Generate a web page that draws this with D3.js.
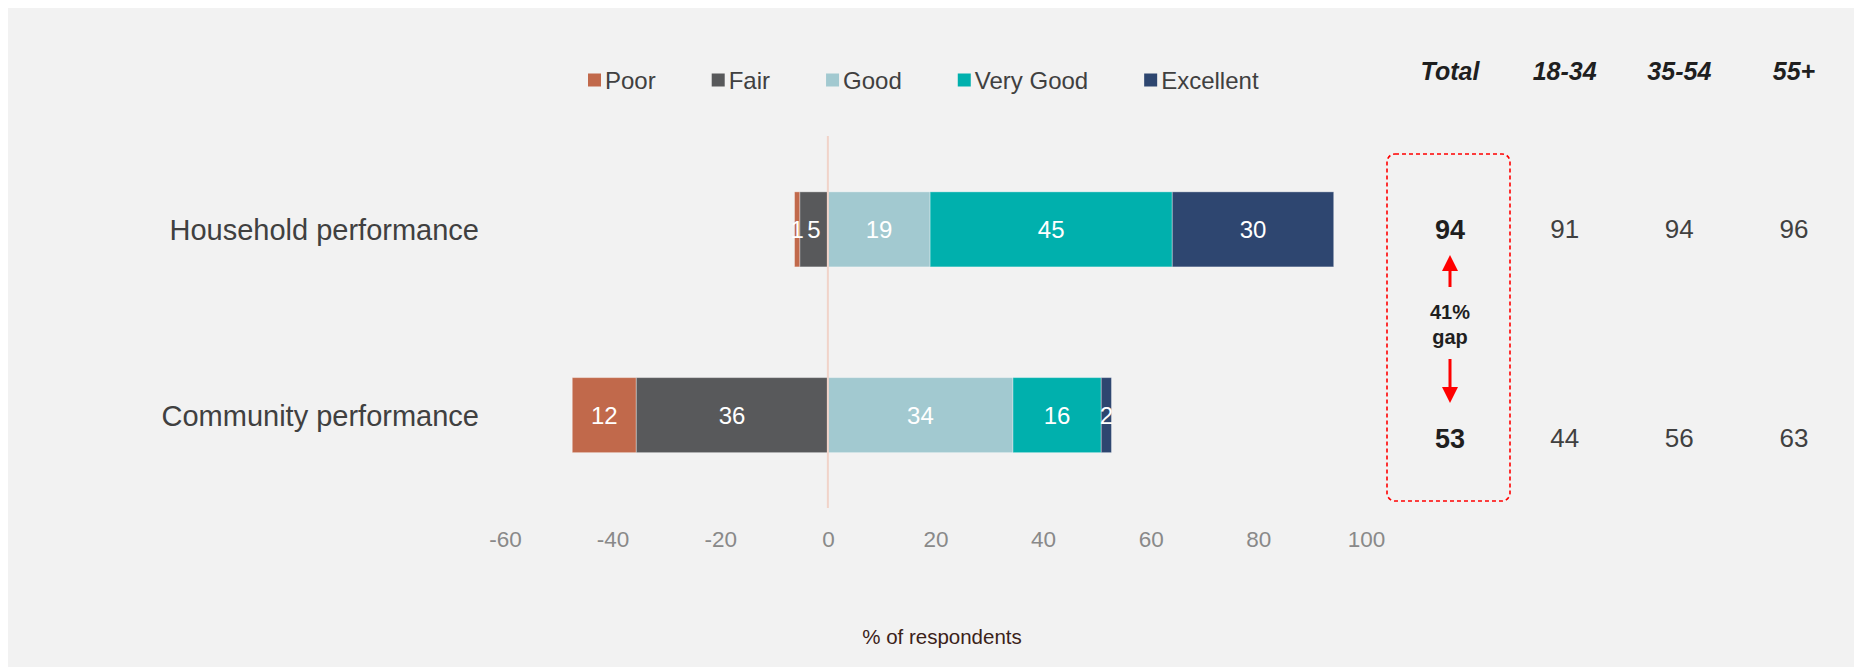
<!DOCTYPE html>
<html>
<head>
<meta charset="utf-8">
<script src="https://cdn.jsdelivr.net/npm/d3@7"></script>
<style>
  body { margin: 0; background: #fff; }
  svg { display: block; font-family: "Liberation Sans", Arial, sans-serif; }
</style>
</head>
<body>
<div id="chart"></div>
<script>
'use strict';
// Chart data.
var categories = ['Household performance', 'Community performance'];
var levels = ['Poor', 'Fair', 'Good', 'Very Good', 'Excellent'];
var poor = [1, 11.9];
var fair = [5.2, 35.6];
var good = [19, 34.4];
var veryGood = [45, 16.4];
var excellent = [30, 1.9];
var xTicks = [-60, -40, -20, 0, 20, 40, 60, 80, 100];
var groups = ['Total', '18-34', '35-54', '55+'];
var total = [94, 53];
var age1834 = [91, 44];
var age3554 = [94, 56];
var age55 = [96, 63];
var gapText = ['41%', 'gap'];
var axisTitle = '% of respondents';

var colors = ['#c1694b', '#58595b', '#a2c9d0', '#00b0ad', '#2e4670'];

var width = 1854, height = 667;
var svg = d3.select('#chart').append('svg')
    .attr('width', width)
    .attr('height', height);

// Panel background.
svg.append('rect')
    .attr('x', 8).attr('y', 8)
    .attr('width', width - 8).attr('height', height - 8)
    .attr('fill', '#f2f2f2');

var xScale = d3.scaleLinear().domain([-60, 100]).range([505, 1366]);
var yScale = d3.scaleBand().domain(categories)
    .range([136.5, 508]).paddingInner(0.596).paddingOuter(0.298);

// Build stacked segments: negatives go left of zero, positives right.
var segments = [];
categories.forEach(function(cat, i) {
    var neg = [poor[i], fair[i]];
    var pos = [good[i], veryGood[i], excellent[i]];
    var start = -(neg[0] + neg[1]);
    neg.forEach(function(v, j) {
        segments.push({cat: cat, level: j, x0: start, x1: start + v, value: v});
        start += v;
    });
    start = 0;
    pos.forEach(function(v, j) {
        segments.push({cat: cat, level: j + 2, x0: start, x1: start + v, value: v});
        start += v;
    });
});

var bars = svg.append('g');
bars.selectAll('rect')
    .data(segments)
    .enter()
    .append('rect')
    .attr('x', function(d) { return xScale(d.x0); })
    .attr('width', function(d) { return xScale(d.x1) - xScale(d.x0); })
    .attr('y', function(d) { return yScale(d.cat); })
    .attr('height', yScale.bandwidth())
    .attr('fill', function(d) { return colors[d.level]; })
    .attr('stroke', 'rgba(255,255,255,0.35)')
    .attr('stroke-width', 1);

bars.selectAll('text')
    .data(segments)
    .enter()
    .append('text')
    .attr('x', function(d) { return xScale((d.x0 + d.x1) / 2); })
    .attr('y', function(d) { return yScale(d.cat) + yScale.bandwidth() / 2; })
    .attr('dy', '0.36em')
    .attr('text-anchor', 'middle')
    .attr('fill', '#fff')
    .style('font-size', '24px')
    .text(function(d) { return Math.round(d.value); });

// Zero line.
svg.append('line')
    .attr('x1', xScale(0)).attr('x2', xScale(0))
    .attr('y1', 136).attr('y2', 508)
    .attr('stroke', '#f1d3c9')
    .attr('stroke-width', 2);

// Category labels.
svg.append('g').selectAll('text')
    .data(categories)
    .enter()
    .append('text')
    .attr('x', 479)
    .attr('y', function(d) { return yScale(d) + yScale.bandwidth() / 2; })
    .attr('dy', '0.36em')
    .attr('text-anchor', 'end')
    .attr('fill', '#404040')
    .style('font-size', '29px')
    .text(function(d) { return d; });

// x axis (labels only), plain hyphen for negatives.
var xAxis = d3.axisBottom(xScale)
    .tickValues(xTicks)
    .tickFormat(function(d) { return String(d); })
    .tickSize(0)
    .tickPadding(0);
var axisG = svg.append('g')
    .attr('transform', 'translate(0,531)')
    .call(xAxis);
axisG.select('.domain').remove();
axisG.selectAll('text')
    .attr('fill', '#898989')
    .attr('dy', '0.71em')
    .style('font-size', '22.5px')
    .style('font-family', '"Liberation Sans", Arial, sans-serif');

svg.append('text')
    .attr('x', 942)
    .attr('y', 637)
    .attr('dy', '0.36em')
    .attr('text-anchor', 'middle')
    .attr('fill', '#3b2219')
    .style('font-size', '20.5px')
    .text(axisTitle);

// Legend.
var legend = svg.append('g').attr('transform', 'translate(588,80)');
var lx = 0;
levels.forEach(function(name, i) {
    var item = legend.append('g').attr('transform', 'translate(' + lx + ',0)');
    item.append('rect')
        .attr('x', 0).attr('y', -6.5)
        .attr('width', 13).attr('height', 13)
        .attr('fill', colors[i]);
    var t = item.append('text')
        .attr('x', 17)
        .attr('dy', '0.36em')
        .attr('fill', '#404040')
        .style('font-size', '24px')
        .text(name);
    lx += 17 + t.node().getComputedTextLength() + 56;
});

// Table on the right.
var colScale = d3.scalePoint().domain(groups).range([1450, 1794]);
var rowScale = d3.scalePoint().domain(categories).range([229, 438]);
var tableCols = [total, age1834, age3554, age55];

svg.append('g').selectAll('text')
    .data(groups)
    .enter()
    .append('text')
    .attr('x', function(d) { return colScale(d); })
    .attr('y', 71)
    .attr('dy', '0.36em')
    .attr('text-anchor', 'middle')
    .attr('fill', '#1f1f1f')
    .style('font-size', '25px')
    .style('font-weight', 'bold')
    .style('font-style', 'italic')
    .text(function(d) { return d; });

groups.forEach(function(g, c) {
    svg.append('g').selectAll('text')
        .data(tableCols[c])
        .enter()
        .append('text')
        .attr('x', colScale(g))
        .attr('y', function(d, i) { return rowScale(categories[i]); })
        .attr('dy', '0.36em')
        .attr('text-anchor', 'middle')
        .attr('fill', c === 0 ? '#1f1f1f' : '#404040')
        .style('font-size', c === 0 ? '27px' : '26px')
        .style('font-weight', c === 0 ? 'bold' : 'normal')
        .text(function(d) { return d; });
});

// Dashed highlight box around Total column.
svg.append('rect')
    .attr('x', 1387).attr('y', 154)
    .attr('width', 123).attr('height', 347)
    .attr('rx', 8).attr('ry', 8)
    .attr('fill', 'none')
    .attr('stroke', '#ff0000')
    .attr('stroke-width', 1.6)
    .attr('stroke-dasharray', '4,3');

// Gap arrows.
var ax = colScale('Total');
var topY = rowScale(categories[0]);
var botY = rowScale(categories[1]);
var arrows = svg.append('g').attr('fill', '#ff0000').attr('stroke', '#ff0000');
arrows.append('line')
    .attr('x1', ax).attr('x2', ax)
    .attr('y1', topY + 40).attr('y2', topY + 58)
    .attr('stroke-width', 3);
arrows.append('path')
    .attr('stroke', 'none')
    .attr('d', 'M' + (ax - 8) + ',' + (topY + 42) + 'L' + ax + ',' + (topY + 26) + 'L' + (ax + 8) + ',' + (topY + 42) + 'Z');
arrows.append('line')
    .attr('x1', ax).attr('x2', ax)
    .attr('y1', botY - 79).attr('y2', botY - 51)
    .attr('stroke-width', 3);
arrows.append('path')
    .attr('stroke', 'none')
    .attr('d', 'M' + (ax - 8) + ',' + (botY - 51) + 'L' + ax + ',' + (botY - 35) + 'L' + (ax + 8) + ',' + (botY - 51) + 'Z');

svg.append('g').selectAll('text')
    .data(gapText)
    .enter()
    .append('text')
    .attr('x', ax)
    .attr('y', function(d, i) { return 312 + i * 25; })
    .attr('dy', '0.36em')
    .attr('text-anchor', 'middle')
    .attr('fill', '#1f1f1f')
    .style('font-size', '20px')
    .style('font-weight', 'bold')
    .text(function(d) { return d; });
</script>
</body>
</html>
